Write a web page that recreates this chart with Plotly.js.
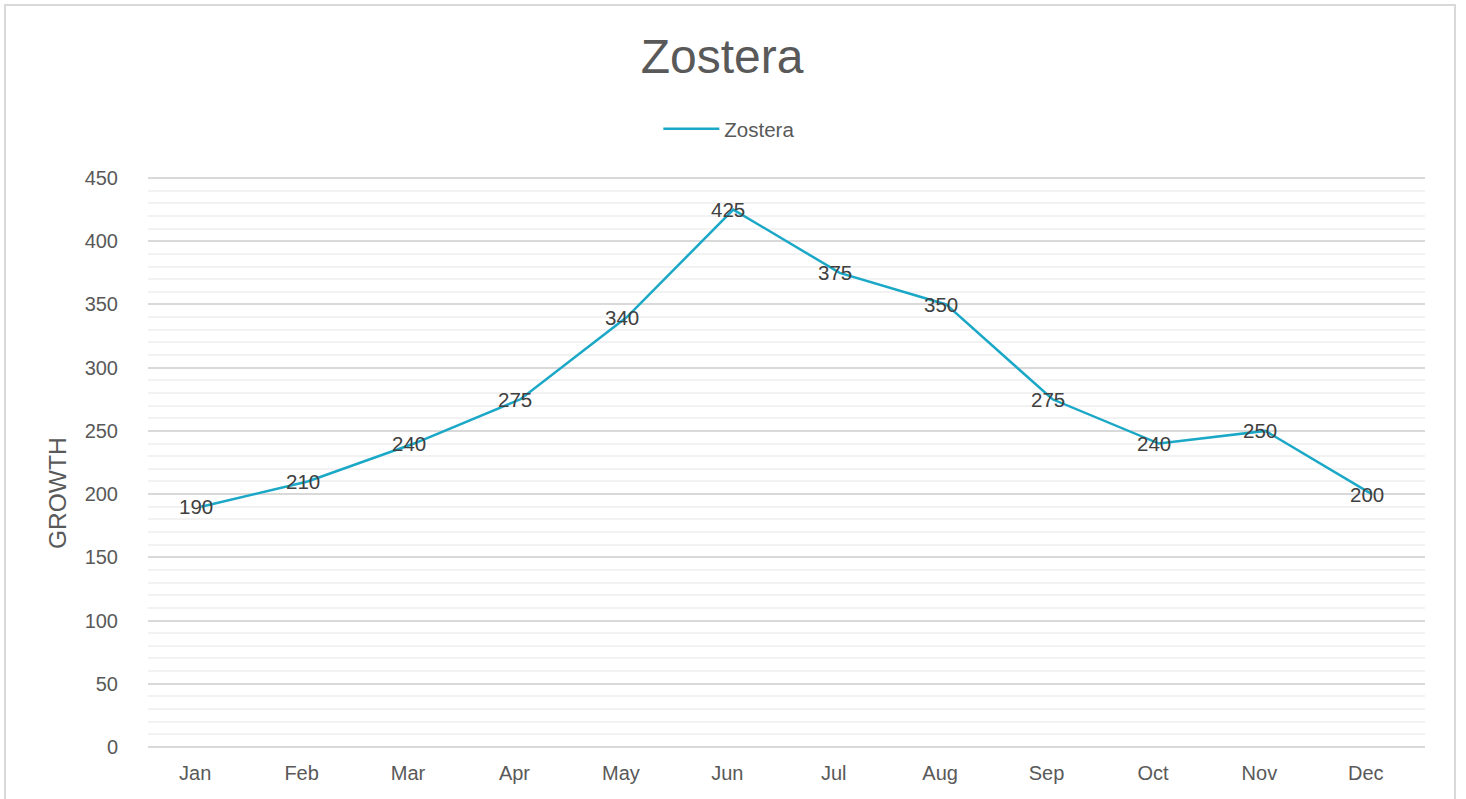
<!DOCTYPE html>
<html>
<head>
<meta charset="utf-8">
<script src="https://cdn.plot.ly/plotly-3.0.1.min.js"></script>
<style>
html, body { margin: 0; padding: 0; background: #fff; overflow: hidden; }
#frame { position: absolute; left: 4px; top: 4px; width: 1452px; height: 810px; border: 2px solid #d9d9d9; box-sizing: border-box; pointer-events: none; z-index: 5; }
#chart { position: absolute; left: 0; top: 0; width: 1466px; height: 799px; }
</style>
</head>
<body>
<div id="chart"></div>
<div id="frame"></div>
<script>
const months = ["Jan","Feb","Mar","Apr","May","Jun","Jul","Aug","Sep","Oct","Nov","Dec"];
const growth = [190, 210, 240, 275, 340, 425, 375, 350, 275, 240, 250, 200];
const seriesName = "Zostera";
const yAxisTitle = "GROWTH";
const yTicks = [0, 50, 100, 150, 200, 250, 300, 350, 400, 450];
const yMin = 0, yMax = 450;

const FONT = "Liberation Sans, Arial, sans-serif";

const trace = {
  x: months,
  y: growth,
  name: seriesName,
  type: "scatter",
  mode: "lines",
  line: { color: "#1BA8C7", width: 2.5 },
  hoverinfo: "skip"
};

const labelAnnotations = months.map((m, i) => ({
  x: m, y: growth[i], xref: "x", yref: "y",
  text: String(growth[i]),
  showarrow: false,
  xanchor: "center", yanchor: "middle",
  xshift: -5,
  font: { family: FONT, size: 20.5, color: "#404040" }
}));

const yTitleAnnotation = {
  text: yAxisTitle,
  xref: "paper", yref: "paper",
  x: -(148 - 57) / 1277, y: (747 - 493) / 569,
  xanchor: "center", yanchor: "middle",
  textangle: -90,
  showarrow: false,
  font: { family: FONT, size: 24.5, color: "#595959" }
};

const edgeLines = [0, 1].map(v => ({
  type: "line", xref: "paper", yref: "paper",
  x0: 0, x1: 1, y0: v, y1: v,
  line: { color: "#d9d9d9", width: 2 },
  layer: "below"
}));

const layout = {
  width: 1466,
  height: 799,
  paper_bgcolor: "#ffffff",
  plot_bgcolor: "#ffffff",
  margin: { l: 148, r: 41, t: 178, b: 52 },
  font: { family: FONT, color: "#595959" },
  title: {
    text: seriesName,
    font: { size: 48, color: "#595959", family: FONT },
    x: 0.4925, xanchor: "center",
    y: 1 - 56 / 799, yanchor: "middle", yref: "container"
  },
  showlegend: true,
  legend: {
    orientation: "h",
    x: 0.4975, xanchor: "center", xref: "container",
    y: 1 - 129 / 799, yanchor: "middle", yref: "container",
    font: { size: 20.5, color: "#595959" },
    itemwidth: 56
  },
  annotations: labelAnnotations.concat([yTitleAnnotation]),
  shapes: edgeLines,
  xaxis: {
    type: "category",
    range: [-0.5, 11.5],
    showgrid: false,
    zeroline: false,
    showline: false,
    ticks: "",
    tickfont: { size: 20, color: "#595959" },
    ticklabelstandoff: 12,
    ticklabelshift: -6
  },
  yaxis: {
    range: [yMin, yMax],
    tickvals: yTicks,
    ticktext: yTicks.map(String),
    showgrid: true,
    gridcolor: "#d9d9d9",
    gridwidth: 2,
    zeroline: false,
    showline: false,
    ticks: "",
    tickfont: { size: 20, color: "#595959" },
    ticklabelstandoff: 29,
    minor: { dtick: 10, showgrid: true, gridcolor: "#f2f2f2", gridwidth: 2 }
  }
};

Plotly.newPlot("chart", [trace], layout, { staticPlot: true, displayModeBar: false });
</script>
</body>
</html>
